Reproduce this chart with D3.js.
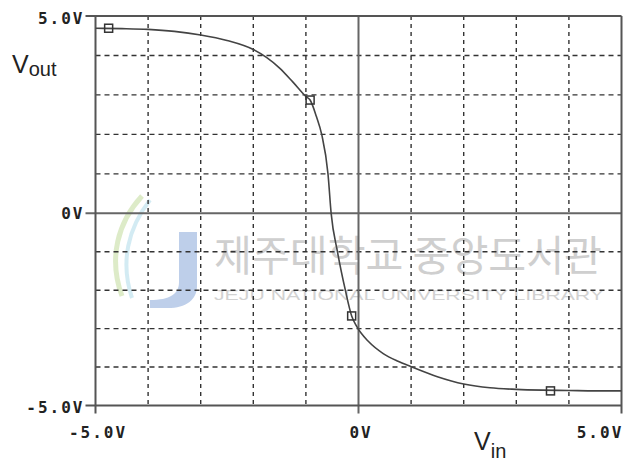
<!DOCTYPE html>
<html>
<head>
<meta charset="utf-8">
<script src="https://cdn.jsdelivr.net/npm/d3@7"></script>
<style>
  html, body { margin: 0; padding: 0; background: #fff; }
  svg { display: block; }
</style>
</head>
<body>
<svg id="chart" width="626" height="466"></svg>
<script>
// Inverter transfer curve: Vout versus Vin
const vin  = [-5, -4.5, -4, -3.5, -3, -2.5, -2, -1.75, -1.5, -1.25, -1, -0.92, -0.8, -0.7, -0.58, -0.52, -0.4, -0.25, -0.13, -0.04, 0.2, 0.47, 0.75, 1.0, 1.5, 2.0, 2.5, 3.0, 3.5, 4.0, 4.5, 5.0];
const vout = [4.69, 4.68, 4.66, 4.61, 4.52, 4.38, 4.15, 3.95, 3.68, 3.33, 2.96, 2.87, 2.45, 2.0, 1.0, 0.0, -1.0, -2.0, -2.67, -2.93, -3.35, -3.65, -3.85, -3.99, -4.25, -4.44, -4.54, -4.58, -4.6, -4.61, -4.62, -4.62];

// symbol markers along the trace
const markVin  = [-4.75, -0.92, -0.13, 3.65];
const markVout = [4.69, 2.87, -2.67, -4.62];

// grid and tick labels
const gridVolts = [-4, -3, -2, -1, 1, 2, 3, 4];
const xTicks = [-5, 0, 5];
const xTickLabels = ["-5.0V", "0V", "5.0V"];
const yTicks = [5, 0, -5];
const yTickLabels = ["5.0V", "0V", "-5.0V"];

const svg = d3.select("#chart");

const x = d3.scaleLinear().domain([-5, 5]).range([95.5, 621.5]);
const y = d3.scaleLinear().domain([-5, 0, 5]).range([405.5, 213.3, 16]);

const X0 = x(-5), X1 = x(5), Y0 = y(-5), Y1 = y(5);

// library watermark (drawn first so the plot sits above it)
const wm = svg.append("g").attr("class", "watermark");
wm.append("path")
  .attr("d", "M142,196 C118,222 108,258 122,296")
  .attr("fill", "none").attr("stroke", "#d5e6ba").attr("stroke-width", 5).attr("opacity", 0.8);
wm.append("path")
  .attr("d", "M150,200 C128,228 120,262 132,298")
  .attr("fill", "none").attr("stroke", "#c8e6f0").attr("stroke-width", 4).attr("opacity", 0.8);
wm.append("path")
  .attr("d", "M179,232 L197,232 L197,286 C197,300 186,308 168,308 L150,308 L150,300 C170,300 179,294 179,282 Z")
  .attr("fill", "#b3c7e6").attr("opacity", 0.85);
wm.append("text")
  .attr("x", 214).attr("y", 271)
  .attr("textLength", 388).attr("lengthAdjust", "spacingAndGlyphs")
  .attr("font-family", "'Noto Sans CJK KR', sans-serif")
  .attr("font-size", 42)
  .attr("fill", "#cfcfcf")
  .text("제주대학교 중앙도서관");
wm.append("text")
  .attr("x", 214).attr("y", 300)
  .attr("textLength", 390).attr("lengthAdjust", "spacingAndGlyphs")
  .attr("font-family", "'Liberation Sans', sans-serif")
  .attr("font-size", 15)
  .attr("fill", "#d2d2d2")
  .text("JEJU NATIONAL UNIVERSITY LIBRARY");

// dashed grid
const grid = svg.append("g").attr("stroke", "#333").attr("stroke-width", 1.4);
grid.selectAll("line.vg").data(gridVolts).join("line")
  .attr("class", "vg")
  .attr("x1", d => x(d)).attr("x2", d => x(d))
  .attr("y1", Y1).attr("y2", Y0)
  .attr("stroke-dasharray", "4,4");
grid.selectAll("line.hg").data(gridVolts).join("line")
  .attr("class", "hg")
  .attr("y1", d => y(d)).attr("y2", d => y(d))
  .attr("x1", X0).attr("x2", X1)
  .attr("stroke-dasharray", "5,4");

// zero lines
svg.append("line")
  .attr("x1", X0 - 10).attr("x2", X1).attr("y1", y(0)).attr("y2", y(0))
  .attr("stroke", "#666").attr("stroke-width", 2);
svg.append("line")
  .attr("x1", x(0)).attr("x2", x(0)).attr("y1", Y1).attr("y2", Y0 + 8)
  .attr("stroke", "#666").attr("stroke-width", 2);

// frame
const frame = svg.append("g").attr("stroke", "#555").attr("fill", "none").attr("stroke-width", 2);
frame.append("line").attr("x1", X0 - 10).attr("x2", X1).attr("y1", Y1).attr("y2", Y1);
frame.append("line").attr("x1", X0 - 10).attr("x2", X1).attr("y1", Y0).attr("y2", Y0);
frame.append("line").attr("x1", X0).attr("x2", X0).attr("y1", Y1).attr("y2", Y0 + 8);
frame.append("line").attr("x1", X1).attr("x2", X1).attr("y1", Y1).attr("y2", Y0 + 8);

// tick labels via axis generators
const labelFont = "'DejaVu Sans Mono', monospace";
const yAxis = svg.append("g")
  .attr("transform", `translate(${X0},0)`)
  .call(d3.axisLeft(y).tickValues(yTicks).tickSize(0).tickPadding(0)
        .tickFormat((d, i) => yTickLabels[i]));
yAxis.select(".domain").remove();
yAxis.selectAll("text")
  .attr("x", -11).attr("dy", "0.36em")
  .attr("font-family", labelFont).attr("font-weight", "bold")
  .attr("font-size", 16).attr("letter-spacing", "2px")
  .attr("fill", "#222")
  .attr("transform", d => d === 5 ? "translate(0,2)" : (d === -5 ? "translate(0,1.5)" : "translate(0,-1)"));

const xAxis = svg.append("g")
  .attr("transform", `translate(0,${Y0})`)
  .call(d3.axisBottom(x).tickValues(xTicks).tickSize(0).tickPadding(0)
        .tickFormat((d, i) => xTickLabels[i]));
xAxis.select(".domain").remove();
xAxis.selectAll("text")
  .attr("y", 32).attr("dy", 0)
  .attr("font-family", labelFont).attr("font-weight", "bold")
  .attr("font-size", 16).attr("letter-spacing", "2px")
  .attr("fill", "#222")
  .attr("text-anchor", "middle")
  .attr("x", d => d === 5 ? -22 : 2);

// axis titles
const title = svg.append("g").attr("font-family", "'Liberation Sans', Arial, sans-serif").attr("fill", "#222");
const tOut = title.append("text").attr("x", 12).attr("y", 73);
tOut.append("tspan").attr("font-size", 25).text("V");
tOut.append("tspan").attr("font-size", 20).attr("dy", 3).text("out");
const tIn = title.append("text").attr("x", 474).attr("y", 450);
tIn.append("tspan").attr("font-size", 25).text("V");
tIn.append("tspan").attr("font-size", 20).attr("dy", 8).text("in");

// trace
svg.append("defs").append("clipPath").attr("id", "plotClip")
  .append("rect").attr("x", X0).attr("y", Y1).attr("width", X1 - X0).attr("height", Y0 - Y1);

const pts = vin.map((v, i) => [v, vout[i]]);
const line = d3.line().x(d => x(d[0])).y(d => y(d[1])).curve(d3.curveMonotoneX);
svg.append("path")
  .datum(pts)
  .attr("clip-path", "url(#plotClip)")
  .attr("d", line)
  .attr("fill", "none")
  .attr("stroke", "#444")
  .attr("stroke-width", 1.6);

svg.selectAll("rect.mark").data(markVin.map((v, i) => [v, markVout[i]])).join("rect")
  .attr("class", "mark")
  .attr("x", d => x(d[0]) - 4).attr("y", d => y(d[1]) - 4)
  .attr("width", 8).attr("height", 8)
  .attr("fill", "none").attr("stroke", "#333").attr("stroke-width", 1.5);
</script>
</body>
</html>
